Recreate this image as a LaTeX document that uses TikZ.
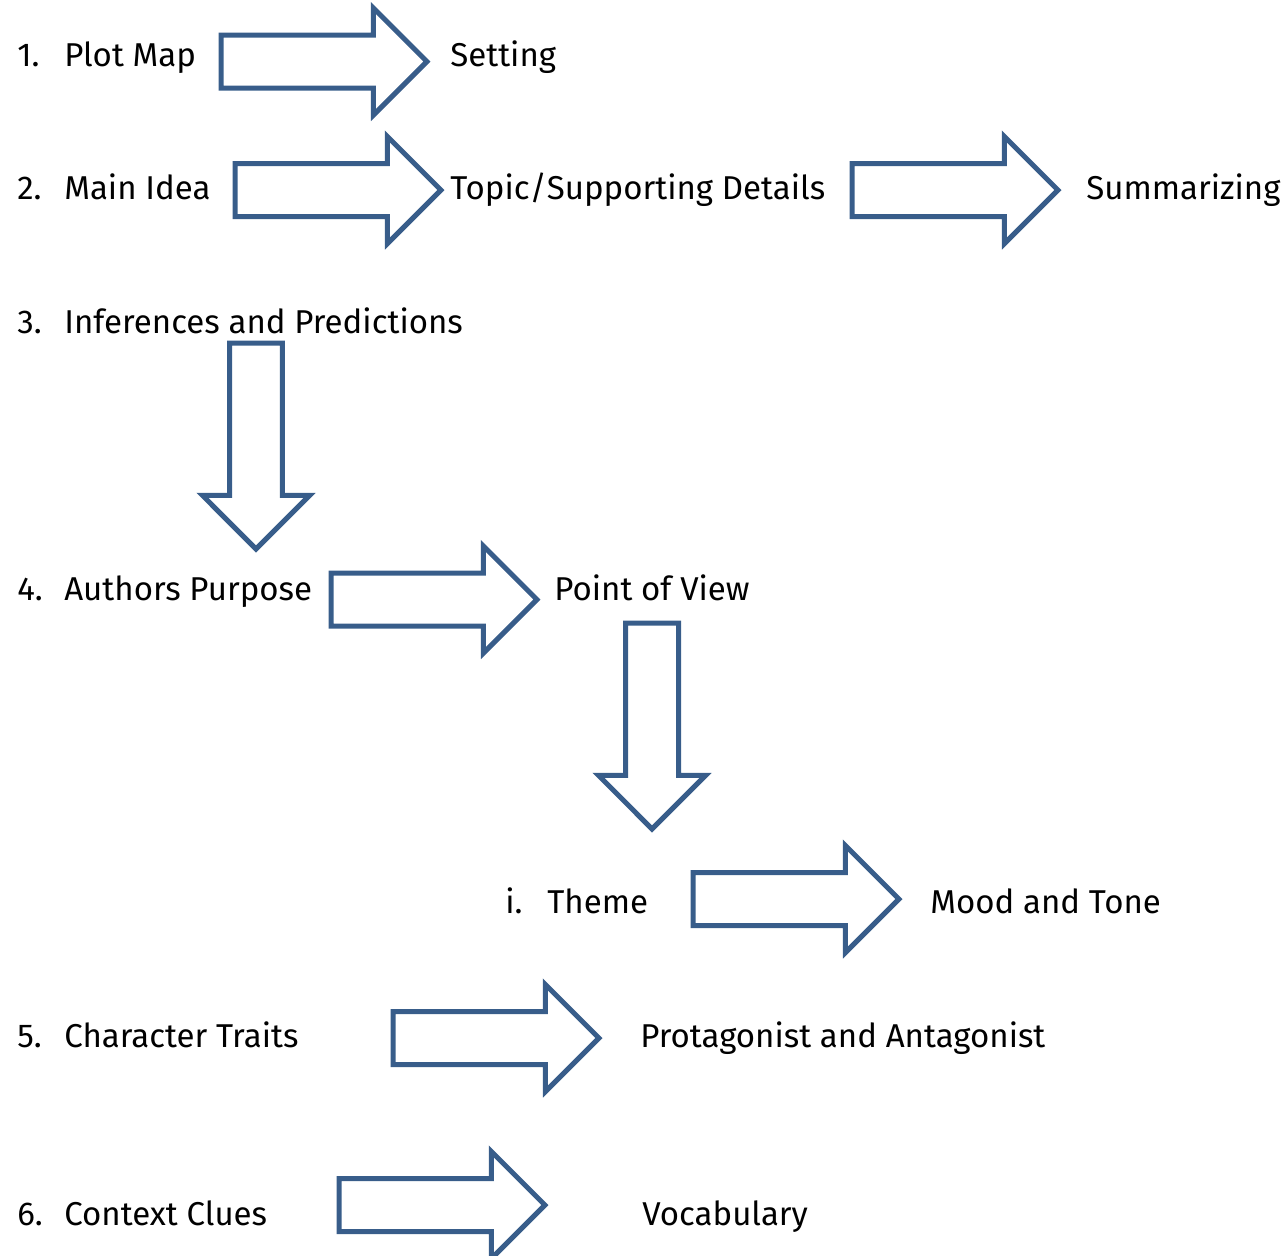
\documentclass[tikz,border=0pt]{standalone}
\usepackage{fontspec}
\setmainfont{Fira Sans}
\usetikzlibrary{shapes.arrows}
\definecolor{arrowblue}{RGB}{56,93,138}
\newcommand\numlbl[3][0.94cm]{\makebox[#1][l]{#2}#3}
\begin{document}
\begin{tikzpicture}[x=0.02cm, y=-0.02cm, font=\fontsize{18.8}{22}\selectfont,
    topic/.style={anchor=base west, inner sep=0pt},
    blockarrow/.style={shape=single arrow, draw=arrowblue, line width=0.1cm, line join=miter,
      single arrow head extend=0.54cm, single arrow tip angle=90,
      inner sep=0pt, inner ysep=0.48cm, minimum height=4.12cm, anchor=tail}]
    \useasboundingbox (0,0) rectangle (1285,1255);
    % row 1
    \node[topic] (pm) at (17,66) {\numlbl{1.}{Plot Map}};
    \node[blockarrow] (a1) at (218.5,61.5) {};
    \node[topic] (set) at (450,66) {Setting};
    % row 2
    \node[topic] (mi) at (17,199) {\numlbl{2.}{Main Idea}};
    \node[blockarrow] (a2) at (232.5,190) {};
    \node[topic] (tsd) at (450,199) {Topic/Supporting Details};
    \node[blockarrow] (a3) at (849.5,190) {};
    \node[topic] (sum) at (1086,199) {Summarizing};
    % row 3
    \node[topic] (inf) at (17,333) {\numlbl{3.}{Inferences and Predictions}};
    \node[blockarrow, rotate=-90] (a4) at (256,340.5) {};
    % row 4
    \node[topic] (ap) at (17,600) {\numlbl{4.}{Authors Purpose}};
    \node[blockarrow] (a5) at (328.5,599.5) {};
    \node[topic] (pov) at (554,600) {Point of View};
    \node[blockarrow, rotate=-90] (a6) at (652,620.5) {};
    % sub item
    \node[topic] (thm) at (505,913) {\numlbl[0.84cm]{i.}{Theme}};
    \node[blockarrow] (a7) at (690.5,899) {};
    \node[topic] (mt) at (930,913) {Mood and Tone};
    % row 5
    \node[topic] (ct) at (17,1047) {\numlbl{5.}{Character Traits}};
    \node[blockarrow] (a8) at (390.5,1038) {};
    \node[topic] (pa) at (640,1047) {Protagonist and Antagonist};
    % row 6
    \node[topic] (cc) at (17,1225) {\numlbl{6.}{Context Clues}};
    \node[blockarrow] (a9) at (336.5,1205) {};
    \node[topic] (voc) at (642,1225) {Vocabulary};
\end{tikzpicture}
\end{document}
